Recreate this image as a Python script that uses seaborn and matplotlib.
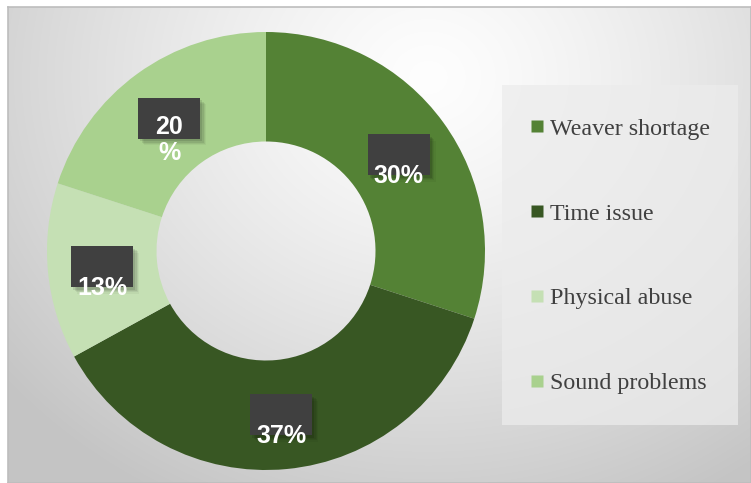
import numpy as np
import matplotlib
matplotlib.use("Agg")
import matplotlib.pyplot as plt
from matplotlib.patches import Rectangle
from matplotlib.lines import Line2D
import seaborn as sns

categories = ["Weaver shortage", "Time issue", "Physical abuse", "Sound problems"]
values = [30, 37, 13, 20]
value_labels = ["30%", "37%", "13%", "20\n%"]
hex_colors = ["#548235", "#385723", "#C5E0B4", "#A9D18E"]

sns.set_style("white")
palette = sns.color_palette(hex_colors)

W, H = 751, 483
fig = plt.figure(figsize=(W / 100, H / 100), dpi=100)
fig.patch.set_facecolor("white")

# background with soft radial gradient
bg = fig.add_axes([8 / W, 0, (W - 8) / W, (H - 7) / H])
yy, xx = np.mgrid[0:476, 0:743]
cx, cy = 420, 70
d = np.sqrt(((xx - cx) / 1.15) ** 2 + ((yy - cy) / 1.0) ** 2)
val = 0.995 - 0.22 * np.clip(d / 470, 0, 1.2) ** 1.3
val = np.clip(val, 0.77, 1.0)
img = np.dstack([val, val, val])
bg.imshow(img, aspect="auto", extent=[0, 1, 0, 1], origin="upper")
bg.set_xlim(0, 1)
bg.set_ylim(0, 1)
bg.set_xticks([])
bg.set_yticks([])
for s in bg.spines.values():
    s.set_color("#bdbdbd")
    s.set_linewidth(1.2)

# donut
R = 219
cxp, cyp = 266, 251
ax = fig.add_axes([(cxp - R) / W, (H - cyp - R) / H, 2 * R / W, 2 * R / H])
ax.set_facecolor("none")
wedges, _ = ax.pie(values, colors=palette, startangle=90, counterclock=False,
                   radius=1.0, wedgeprops=dict(width=0.5, edgecolor="none"))
ax.set_xlim(-1, 1)
ax.set_ylim(-1, 1)
ax.set_aspect("equal")
ax.axis("off")

# labels
bw, bh = 62 / R, 41 / R
for w, lab in zip(wedges, value_labels):
    ang = np.deg2rad((w.theta1 + w.theta2) / 2)
    x, y = 0.75 * np.cos(ang), 0.75 * np.sin(ang)
    for k, a in enumerate([0.10, 0.08, 0.06, 0.04]):
        ax.add_patch(Rectangle((x - bw / 2 + 0.008 + 0.006 * k, y - bh / 2 - 0.012 - 0.006 * k),
                               bw, bh, facecolor="black", alpha=a,
                               edgecolor="none", zorder=3))
    ax.add_patch(Rectangle((x - bw / 2, y - bh / 2), bw, bh,
                           facecolor="#404040", edgecolor="none", zorder=4))
    ax.text(x, y - 0.1, lab, ha="center", va="center", color="white",
            fontsize=18, fontweight="bold", family="Liberation Sans",
            linespacing=1.15, zorder=5)

# legend box
fig.patches.append(Rectangle((502 / W, (H - 425) / H), 236 / W, 340 / H,
                             transform=fig.transFigure, facecolor="#ececec",
                             alpha=0.75, edgecolor="none", zorder=1))
handles = [Line2D([], [], marker="s", ls="", markersize=8.8,
                  markerfacecolor=c, markeredgecolor="none") for c in palette]
leg = fig.legend(handles, categories, loc="upper left",
                 bbox_to_anchor=(518 / W, (H - 106) / H), frameon=False,
                 prop=dict(family="Liberation Serif", size=17.3),
                 labelcolor="#404040", handlelength=0.6, handletextpad=0.25,
                 labelspacing=2.62, borderpad=0)

fig.savefig("out.png", dpi=100)
